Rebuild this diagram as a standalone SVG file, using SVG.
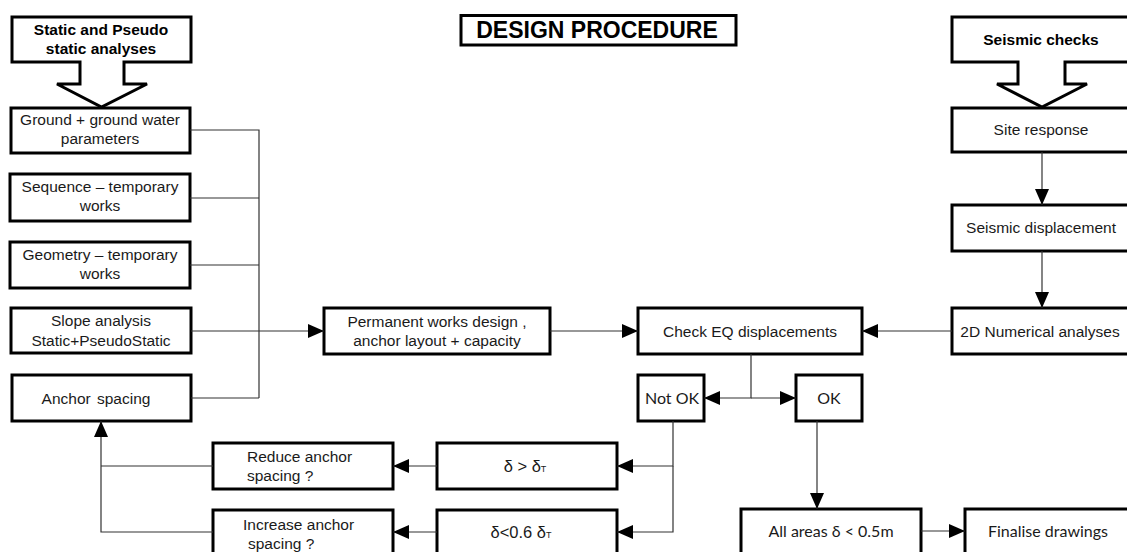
<svg xmlns="http://www.w3.org/2000/svg" width="1127" height="552" viewBox="0 0 1127 552">
<style>
.box{fill:#fff;stroke:#000;stroke-width:3}
.blk{fill:#fff;stroke:#000;stroke-width:3;stroke-linejoin:miter}
.t{font-family:"Liberation Sans",Arial,sans-serif;font-size:15.5px;fill:#1a1a1a;text-anchor:middle}
.tb{font-family:"Liberation Sans",Arial,sans-serif;font-size:15.5px;font-weight:bold;fill:#000;text-anchor:middle}
.tc{font-family:Lato,"Open Sans",sans-serif;font-size:16px;fill:#1a1a1a;text-anchor:middle}
.ts{text-anchor:start}
.ln{fill:none;stroke:#333;stroke-width:1.2}
.sub{font-size:9px}
</style>
<defs>
<marker id="ah" markerUnits="userSpaceOnUse" markerWidth="16" markerHeight="14" refX="16" refY="7" orient="auto">
<path d="M0,0 L16,7 L0,14 z" fill="#000"/>
</marker>
</defs>
<g id="title">
<rect class="box" x="461" y="15.5" width="275" height="29.5"/>
<text x="597" y="38" style="font-family:'Liberation Sans',Arial,sans-serif;font-size:23px;font-weight:bold;text-anchor:middle">DESIGN PROCEDURE</text>
</g>
<g id="static-head">
<path class="blk" d="M12,17 H191 V62 H124 V84 H147 L101.5,107 L57,84 H80 V62 H12 Z"/>
<text class="tb" x="101" y="35">Static and Pseudo</text>
<text class="tb" x="101" y="54">static analyses</text>
</g>
<g id="seismic-head">
<path class="blk" d="M952,17 H1135 V62 H1065 V84 H1087 L1042,107 L997,84 H1018 V62 H952 Z"/>
<text class="tb" x="1041" y="45">Seismic checks</text>
</g>
<g id="ground">
<rect class="box" x="11" y="108" width="179" height="45"/>
<text class="t" x="100" y="125">Ground + ground water</text>
<text class="t" x="100" y="144">parameters</text>
</g>
<g id="sequence">
<rect class="box" x="10" y="174" width="180" height="47"/>
<text class="t" x="100" y="192">Sequence – temporary</text>
<text class="t" x="100" y="211">works</text>
</g>
<g id="geometry">
<rect class="box" x="10" y="242" width="180" height="46"/>
<text class="t" x="100" y="260">Geometry – temporary</text>
<text class="t" x="100" y="279">works</text>
</g>
<g id="slope">
<rect class="box" x="11" y="308" width="180" height="45"/>
<text class="t" x="101" y="326">Slope analysis</text>
<text class="t" x="101" y="346">Static+PseudoStatic</text>
</g>
<g id="anchor">
<rect class="box" x="12" y="375" width="179" height="46"/>
<text class="t" x="96" y="404" style="word-spacing:2px">Anchor spacing</text>
</g>
<g id="permanent">
<rect class="box" x="324" y="308" width="226" height="46"/>
<text class="t" x="437" y="327">Permanent works design ,</text>
<text class="t" x="437" y="346">anchor layout + capacity</text>
</g>
<g id="check">
<rect class="box" x="638" y="308" width="224" height="46"/>
<text class="t" x="750" y="337">Check EQ displacements</text>
</g>
<g id="site">
<rect class="box" x="952" y="108" width="180" height="44"/>
<text class="t" x="1041" y="135">Site response</text>
</g>
<g id="seisdisp">
<rect class="box" x="952" y="205" width="180" height="46"/>
<text class="t" x="1041" y="233">Seismic displacement</text>
</g>
<g id="numerical">
<rect class="box" x="952" y="308" width="180" height="46"/>
<text class="t" x="1040" y="337">2D Numerical analyses</text>
</g>
<g id="notok">
<rect class="box" x="638" y="375" width="66" height="46"/>
<text class="tc" x="672" y="404">Not OK</text>
</g>
<g id="ok">
<rect class="box" x="796" y="375" width="66" height="46"/>
<text class="tc" x="829" y="404">OK</text>
</g>
<g id="reduce">
<rect class="box" x="213" y="443" width="180" height="46"/>
<text class="t ts" x="247" y="462">Reduce anchor</text>
<text class="t ts" x="247" y="481">spacing ?</text>
</g>
<g id="gt">
<rect class="box" x="437" y="443" width="180" height="46"/>
<text class="t" x="525" y="472" style="font-size:16.5px">δ &gt; δ<tspan class="sub">T</tspan></text>
</g>
<g id="increase">
<rect class="box" x="213" y="510" width="180" height="50"/>
<text class="t ts" x="243" y="530">Increase anchor</text>
<text class="t ts" x="248" y="549">spacing ?</text>
</g>
<g id="lt">
<rect class="box" x="437" y="510" width="180" height="50"/>
<text class="t" x="521" y="538" style="font-size:16.5px">δ&lt;0.6 δ<tspan class="sub">T</tspan></text>
</g>
<g id="allareas">
<rect class="box" x="741" y="509" width="180" height="50"/>
<text class="tc" x="831" y="537">All areas δ &lt; 0.5m</text>
</g>
<g id="finalise">
<rect class="box" x="965" y="509" width="170" height="50"/>
<text class="tc" x="1048" y="537">Finalise drawings</text>
</g>
<g id="connectors">
<path class="ln" d="M190,130 H259 V398"/>
<path class="ln" d="M190,198 H259"/>
<path class="ln" d="M190,265 H259"/>
<path class="ln" d="M191,398 H259"/>
<path class="ln" d="M191,331 H324" marker-end="url(#ah)"/>
<path class="ln" d="M550,331 H638" marker-end="url(#ah)"/>
<path class="ln" d="M952,331 H862" marker-end="url(#ah)"/>
<path class="ln" d="M1042,152 V205" marker-end="url(#ah)"/>
<path class="ln" d="M1042,251 V308" marker-end="url(#ah)"/>
<path class="ln" d="M751,354 V398 H704" marker-end="url(#ah)"/>
<path class="ln" d="M751,398 H796" marker-end="url(#ah)"/>
<path class="ln" d="M817,421 V509" marker-end="url(#ah)"/>
<path class="ln" d="M921,531 H965" marker-end="url(#ah)"/>
<path class="ln" d="M673,421 V466 H617" marker-end="url(#ah)"/>
<path class="ln" d="M673,466 V532 H617" marker-end="url(#ah)"/>
<path class="ln" d="M437,466 H393" marker-end="url(#ah)"/>
<path class="ln" d="M437,532 H393" marker-end="url(#ah)"/>
<path class="ln" d="M213,466 H101"/>
<path class="ln" d="M213,532 H101 V421" marker-end="url(#ah)"/>
</g>
</svg>
